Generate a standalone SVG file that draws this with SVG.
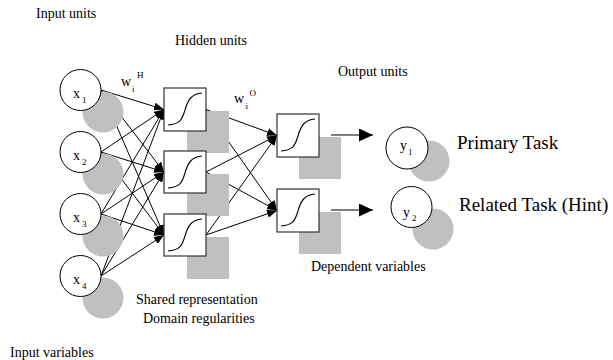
<svg xmlns="http://www.w3.org/2000/svg" width="613" height="360" viewBox="0 0 613 360">
<style>
text{font-family:"Liberation Serif","Times New Roman",serif;fill:#000}
.lbl{font-size:14px}
.big{font-size:19px}
.sub{font-size:9px}
.shadow{fill:#c0c0c0;stroke:none}
.unit{fill:#fff;stroke:#000;stroke-width:1}
.box{fill:#fff;stroke:#333;stroke-width:1.2}
.sig{fill:none;stroke:#000;stroke-width:1.1}
.con{stroke:#000;stroke-width:1;fill:none}
</style>
<defs>
<marker id="ah" viewBox="0 0 10 8" refX="10" refY="4" markerWidth="10" markerHeight="8" markerUnits="userSpaceOnUse" orient="auto">
<path d="M0,0 L10,4 L0,8 Z" fill="#000"/>
</marker>
<marker id="big" viewBox="0 0 14 13" refX="14" refY="6.5" markerWidth="14" markerHeight="13" markerUnits="userSpaceOnUse" orient="auto">
<path d="M0,0 L14,6.5 L0,13 Z" fill="#000"/>
</marker>
<path id="s" d="M4,37 C16,36 18,32 21,22 C24,11 28,6 38,5"/>
</defs>

<text class="lbl" x="36" y="18">Input units</text>
<text class="lbl" x="175" y="45">Hidden units</text>
<text class="lbl" x="338" y="76">Output units</text>
<text class="lbl" x="311" y="271">Dependent variables</text>
<text class="lbl" x="136" y="304">Shared representation</text>
<text class="lbl" x="143" y="323">Domain regularities</text>
<text class="lbl" x="10" y="357">Input variables</text>
<text class="big" x="457" y="149">Primary Task</text>
<text class="big" x="459" y="211">Related Task (Hint)</text>

<text class="lbl" x="121" y="86">w</text><text class="sub" x="132" y="92">i</text><text class="sub" x="137" y="78">H</text>
<text class="lbl" x="234" y="103">w</text><text class="sub" x="245.5" y="109">i</text><text class="sub" x="249.5" y="96">O</text>

<g id="connectors">
<g marker-end="url(#ah)">
<line class="con" x1="101" y1="90" x2="164" y2="109.5"/>
<line class="con" x1="101" y1="90" x2="164" y2="172"/>
<line class="con" x1="101" y1="90" x2="164" y2="235"/>
<line class="con" x1="101" y1="152" x2="164" y2="109.5"/>
<line class="con" x1="101" y1="152" x2="164" y2="172"/>
<line class="con" x1="101" y1="152" x2="164" y2="235"/>
<line class="con" x1="101" y1="214" x2="164" y2="109.5"/>
<line class="con" x1="101" y1="214" x2="164" y2="172"/>
<line class="con" x1="101" y1="214" x2="164" y2="235"/>
<line class="con" x1="101" y1="276" x2="164" y2="109.5"/>
<line class="con" x1="101" y1="276" x2="164" y2="172"/>
<line class="con" x1="101" y1="276" x2="164" y2="235"/>
<line class="con" x1="206" y1="109.5" x2="277" y2="135.5"/>
<line class="con" x1="206" y1="109.5" x2="277" y2="210.5"/>
<line class="con" x1="206" y1="172" x2="277" y2="135.5"/>
<line class="con" x1="206" y1="172" x2="277" y2="210.5"/>
<line class="con" x1="206" y1="235" x2="277" y2="135.5"/>
<line class="con" x1="206" y1="235" x2="277" y2="210.5"/>
</g>
<line class="con" x1="331" y1="135" x2="373" y2="135" marker-end="url(#big)"/>
<line class="con" x1="331" y1="210" x2="373" y2="210" marker-end="url(#big)"/>
</g>

<g id="x1"><circle class="shadow" cx="103" cy="112" r="20.5"/><circle class="unit" cx="80.5" cy="90" r="20.5"/><text class="lbl" x="73" y="98">x</text><text class="sub" x="82" y="103">1</text></g>
<g id="x2"><circle class="shadow" cx="103" cy="174" r="20.5"/><circle class="unit" cx="80.5" cy="152" r="20.5"/><text class="lbl" x="73" y="160">x</text><text class="sub" x="82" y="165">2</text></g>
<g id="x3"><circle class="shadow" cx="103" cy="236" r="20.5"/><circle class="unit" cx="80.5" cy="214" r="20.5"/><text class="lbl" x="73" y="222">x</text><text class="sub" x="82" y="227">3</text></g>
<g id="x4"><circle class="shadow" cx="103" cy="298" r="20.5"/><circle class="unit" cx="80.5" cy="276" r="20.5"/><text class="lbl" x="73" y="284">x</text><text class="sub" x="82" y="289">4</text></g>

<g id="h1"><rect class="shadow" x="187" y="111" width="42" height="42"/><rect class="box" x="164" y="88" width="42" height="43"/><use href="#s" class="sig" x="164" y="88"/></g>
<g id="h2"><rect class="shadow" x="187" y="174" width="42" height="42"/><rect class="box" x="164" y="151" width="42" height="42"/><use href="#s" class="sig" x="164" y="151"/></g>
<g id="h3"><rect class="shadow" x="187" y="237" width="42" height="42"/><rect class="box" x="164" y="214" width="42" height="42"/><use href="#s" class="sig" x="164" y="214"/></g>

<g id="o1"><rect class="shadow" x="299" y="137" width="42" height="42"/><rect class="box" x="277" y="114" width="42" height="43"/><use href="#s" class="sig" x="277" y="114"/></g>
<g id="o2"><rect class="shadow" x="299" y="212" width="42" height="42"/><rect class="box" x="277" y="189" width="42" height="43"/><use href="#s" class="sig" x="277" y="189"/></g>

<g id="y1"><circle class="shadow" cx="429" cy="161" r="20.5"/><circle class="unit" cx="407" cy="148" r="21"/><text class="lbl" x="400" y="150">y</text><text class="sub" x="408" y="155">1</text></g>
<g id="y2"><circle class="shadow" cx="433" cy="229" r="20.5"/><circle class="unit" cx="411.5" cy="207" r="20.5"/><text class="lbl" x="403" y="217">y</text><text class="sub" x="412" y="221">2</text></g>
</svg>
